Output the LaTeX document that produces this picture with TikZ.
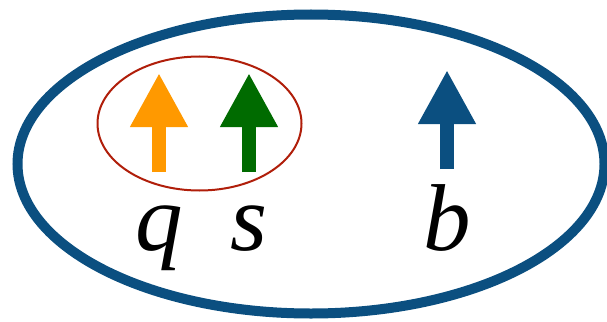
\documentclass[tikz,border=0pt]{standalone}
\usepackage{fontspec}
\usepackage{tikz}
\usetikzlibrary{arrows.meta}
\newfontfamily\spinfont{Liberation Serif}
\definecolor{outerblue}{HTML}{0B4F80}
\definecolor{pairred}{HTML}{B01E0A}
\definecolor{qorange}{HTML}{FF9900}
\definecolor{sgreen}{HTML}{006B00}

\begin{document}
\begin{tikzpicture}[
  x=1pt, y=-1pt,
  region/.style={line width=10pt, draw=outerblue},
  pair/.style={line width=2pt, draw=pairred},
  spin/.style={line width=13.5pt, -{Triangle[length=54pt, width=54pt]}},
  spinlabel/.style={anchor=base, inner sep=0pt, font=\spinfont\itshape\fontsize{95}{95}\selectfont}
]
\useasboundingbox (0,0) rectangle (607,321);

\coordinate (centre) at (311,164);
\coordinate (paircentre) at (199.5,123.5);
\draw[region] (centre) ellipse [x radius=293.5, y radius=149.5];
\draw[pair] (paircentre) ellipse [x radius=102, y radius=67];

% spins
\coordinate (qtail) at (159,172);
\coordinate (qtip) at (159,73);
\coordinate (stail) at (249,172);
\coordinate (stip) at (249,73);
\coordinate (btail) at (447,169);
\coordinate (btip) at (447,70);
\draw[spin, qorange] (qtail) -- (qtip);
\draw[spin, sgreen] (stail) -- (stip);
\draw[spin, outerblue] (btail) -- (btip);

\node[spinlabel] (qlabel) at (159,250) {q};
\node[spinlabel] (slabel) at (249,250) {s};
\node[spinlabel] (blabel) at (447,250) {b};
\end{tikzpicture}
\end{document}
